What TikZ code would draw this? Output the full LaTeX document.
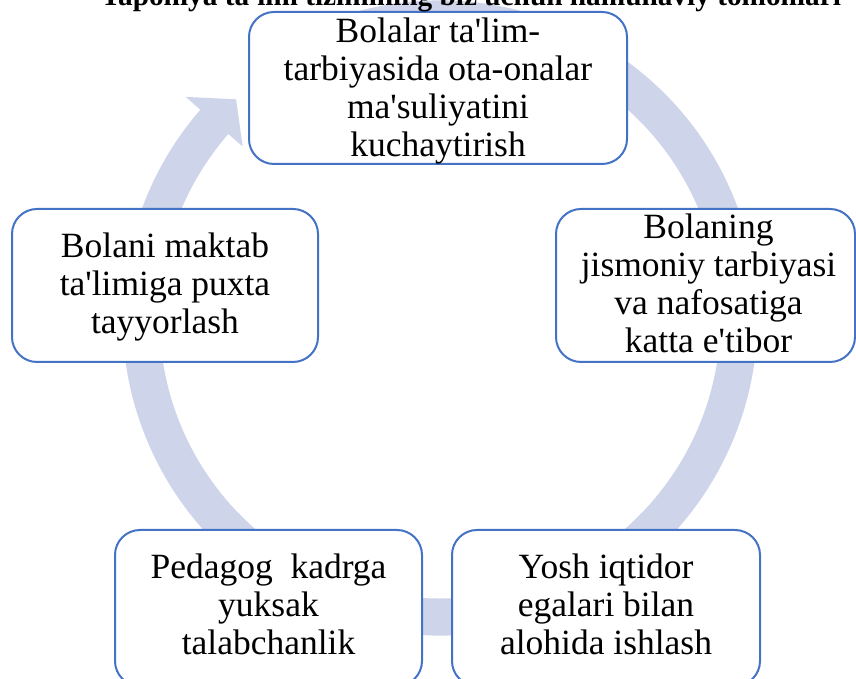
\documentclass[tikz,border=0pt]{standalone}
\usepackage{fontspec}
\setmainfont{Liberation Serif}[Ligatures=TeXOff]
\definecolor{boxline}{RGB}{68,114,196}
\definecolor{ringc}{RGB}{206,212,234}
\begin{document}
\begin{tikzpicture}[x=1pt,y=1pt,
  cbox/.style={draw=boxline, line width=2pt, rounded corners=25pt, fill=white, inner sep=0pt},
  ctext/.style={align=center, inner sep=0pt, font=\fontsize{35.5}{38}\selectfont},
  ttl/.style={anchor=base west, inner sep=0pt, font=\bfseries\fontsize{29.3}{31}\selectfont}]
\useasboundingbox (0,0) rectangle (856,679);
% ring arrow
\begin{scope}[shift={(440,361)}]
\fill[ringc] (110:317.5pt) arc[start angle=110, end angle=-221, radius=317.5pt]
  -- (139:337pt) -- (133:299pt) -- (139:261.5pt) -- (139:280.5pt)
  arc[start angle=-221, end angle=110, radius=280.5pt] -- cycle;
\end{scope}
% boxes
\node[cbox, minimum width=378pt, minimum height=152pt] (top) at (438,591) {};
\node[cbox, minimum width=306pt, minimum height=153pt] (left) at (165,393.5) {};
\node[cbox, minimum width=299pt, minimum height=153pt] (right) at (705.5,393.5) {};
\node[cbox, minimum width=307pt, minimum height=156pt] (bl) at (268.5,71) {};
\node[cbox, minimum width=308pt, minimum height=156pt] (br) at (606,71) {};
% texts
\node[ctext] (topt) at ([yshift=-3pt]top.center) {Bolalar ta'lim-\\tarbiyasida ota-onalar\\ma'suliyatini\\kuchaytirish};
\node[ctext] (leftt) at ([yshift=-2pt]left.center) {Bolani maktab\\ta'limiga puxta\\tayyorlash};
\node[ctext] (rightt) at ([xshift=3pt,yshift=2pt]right.center) {Bolaning\\jismoniy tarbiyasi\\va nafosatiga\\katta e'tibor};
\node[ctext] (blt) at ([yshift=4pt]bl.center) {Pedagog~ kadrga\\yuksak\\talabchanlik};
\node[ctext] (brt) at ([yshift=4pt]br.center) {Yosh iqtidor\\egalari bilan\\alohida ishlash};
% title (top part cut off by the page edge, as in the reference)
\node[ttl] (title) at (100,673) {Yaponiya ta'lim tizimining biz uchun namunaviy tomonlari};
\end{tikzpicture}
\end{document}
